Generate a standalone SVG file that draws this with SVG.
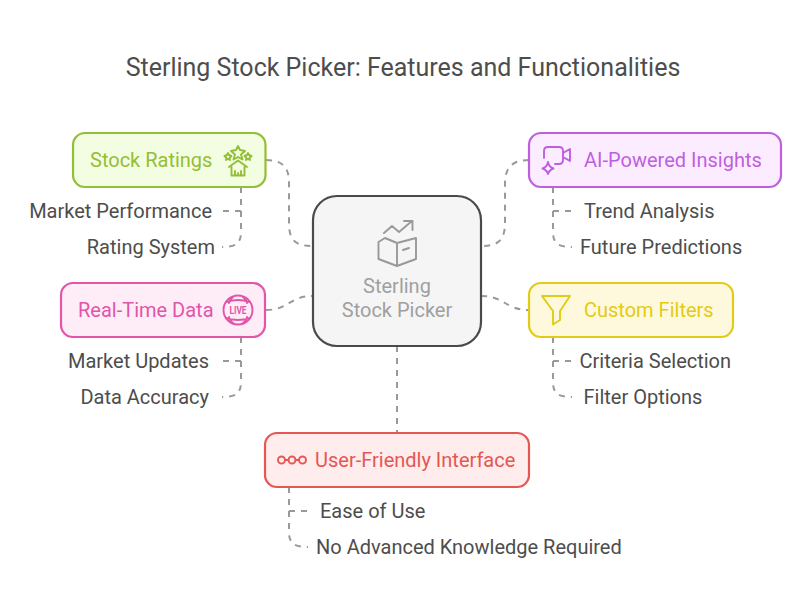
<svg xmlns="http://www.w3.org/2000/svg" width="806" height="608" viewBox="0 0 806 608">
<style>
text{font-family:Roboto,"Liberation Sans",sans-serif;font-size:20px;fill:#4d4d4d}
.t{font-size:25px;fill:#4d4d4d}
.box{stroke-width:2.200}
.c{fill:none;stroke:#999;stroke-width:2;stroke-dasharray:6 6}
.i{fill:none;stroke-width:1.900;stroke-linecap:round;stroke-linejoin:round}
</style>
<rect width="806" height="608" fill="#fff"/>
<text class="t" x="403" y="76" text-anchor="middle">Sterling Stock Picker: Features and Functionalities</text>
<g id="connectors">
<path class="c" d="M266 160C285 160 289 170 289 183V223C289 240 295 246 313 246"/>
<path class="c" d="M529 160C510 160 505 170 505 184V222C505 240 499 246 481 246"/>
<path class="c" d="M266 310C289 310 289 296 313 296"/>
<path class="c" d="M481 296C505 296 505 310 529 310"/>
<path class="c" d="M397 346V433"/>
<path class="c" d="M241 187V232C241 243 236 247 222 247"/>
<path class="c" d="M241 211H223"/>
<path class="c" d="M241 337V382C241 393 236 397 222 397"/>
<path class="c" d="M241 361H223"/>
<path class="c" d="M553 187V232C553 243 558 247 572 247"/>
<path class="c" d="M553 211H572"/>
<path class="c" d="M553 337V382C553 393 558 397 572 397"/>
<path class="c" d="M553 361H572"/>
<path class="c" d="M289 487V532C289 543 294 547 308 547"/>
<path class="c" d="M289 511H307"/>
</g>
<g id="center">
<rect class="box" x="313" y="196" width="168" height="150" rx="24" fill="#f5f5f5" stroke="#4a4a4a"/>
<g class="i" stroke="#999">
<path d="M384 233L392 226L399 232L412 221M404 221H412.500V230"/>
<path d="M397 266L378.500 259V242L385 238L397 243L416 238V259ZM397 243V266M403 250L409 248"/>
</g>
<text x="397" y="293" text-anchor="middle" style="fill:#a0a0a0">Sterling</text>
<text x="397" y="317" text-anchor="middle" style="fill:#a0a0a0">Stock Picker</text>
</g>
<g id="stock-ratings">
<rect class="box" x="73" y="133" width="192.500" height="54" rx="12" fill="#f3fde2" stroke="#93bf35"/>
<text style="fill:#93bf35" x="90" y="167">Stock Ratings</text>
<g class="i" stroke="#93bf35">
<path d="M238 146L240 150L245 151L241 154.500L242.500 159.500L238 157L233.500 159.500L235 154.500L231 151L236 150Z"/>
<path d="M228 153L229 155L231.500 156L229.500 158L230 160L228 159L226 160L226.500 158L224.500 156L227 155Z"/>
<path d="M248 153L249 155L251.500 156L249.500 158L250 160L248 159L246 160L246.500 158L244.500 156L247 155Z"/>
<path d="M229 167L238 160.500L247 167M231.500 167V175.500H244.500V167M235 175V171M238 175V173M241 175V171"/>
</g>
<text x="212" y="218" text-anchor="end">Market Performance</text>
<text x="215" y="254" text-anchor="end">Rating System</text>
</g>
<g id="ai-powered-insights">
<rect class="box" x="529" y="133" width="252" height="54" rx="12" fill="#fbedff" stroke="#bf5fe0"/>
<text style="fill:#bf5fe0" x="584" y="167">AI-Powered Insights</text>
<g class="i" stroke="#bf5fe0">
<path d="M544 158V151Q544 147 548 147H559Q563 147 563 151V160Q563 164 559 164H555M563 153L570 149V161L563 157"/>
<path d="M548 162Q549 167 553.500 168.500Q549 170 548 174Q547 170 542.500 168.500Q547 167 548 162Z"/>
</g>
</g>
<g id="real-time-data">
<rect class="box" x="61" y="283" width="204" height="54" rx="12" fill="#feecf7" stroke="#e255a8"/>
<text style="fill:#e255a8" x="78" y="317">Real-Time Data</text>
<g class="i" stroke="#e255a8">
<circle cx="238" cy="310" r="14.500"/>
<path d="M226 302Q238 298 250 302M226 318Q238 322 250 318M233 297Q229 300 229 303M243 297Q247 300 247 303M233 323Q229 320 229 317M243 323Q247 320 247 317"/>
</g>
<text x="238" y="314" text-anchor="middle" textLength="17" lengthAdjust="spacingAndGlyphs" style="fill:#e255a8;font-size:11px;font-weight:700">LIVE</text>
<text x="209" y="368" text-anchor="end">Market Updates</text>
<text x="209" y="404" text-anchor="end">Data Accuracy</text>
</g>
<g id="custom-filters">
<rect class="box" x="529" y="283" width="204" height="54" rx="12" fill="#fef9dd" stroke="#e2cb14"/>
<text style="fill:#e2cb14" x="584" y="317">Custom Filters</text>
<path class="i" stroke="#e2cb14" d="M542 296H570L560 311V320L553 324.500V311Z"/>
<text x="579.500" y="368">Criteria Selection</text>
<text x="583.500" y="404">Filter Options</text>
</g>
<g id="trend-labels">
<text x="584" y="218">Trend Analysis</text>
<text x="580" y="254">Future Predictions</text>
</g>
<g id="user-friendly-interface">
<rect class="box" x="265" y="433" width="264" height="54" rx="12" fill="#ffecec" stroke="#e55753"/>
<text style="fill:#e55753" x="315" y="467">User-Friendly Interface</text>
<g class="i" stroke="#e55753">
<circle cx="281.500" cy="460" r="3.500"/><circle cx="292" cy="460" r="3.500"/><circle cx="302.500" cy="460" r="3.500"/>
<path d="M285 460H288.500M295.500 460H299"/>
</g>
<text x="320" y="518">Ease of Use</text>
<text x="316" y="554">No Advanced Knowledge Required</text>
</g>
</svg>
